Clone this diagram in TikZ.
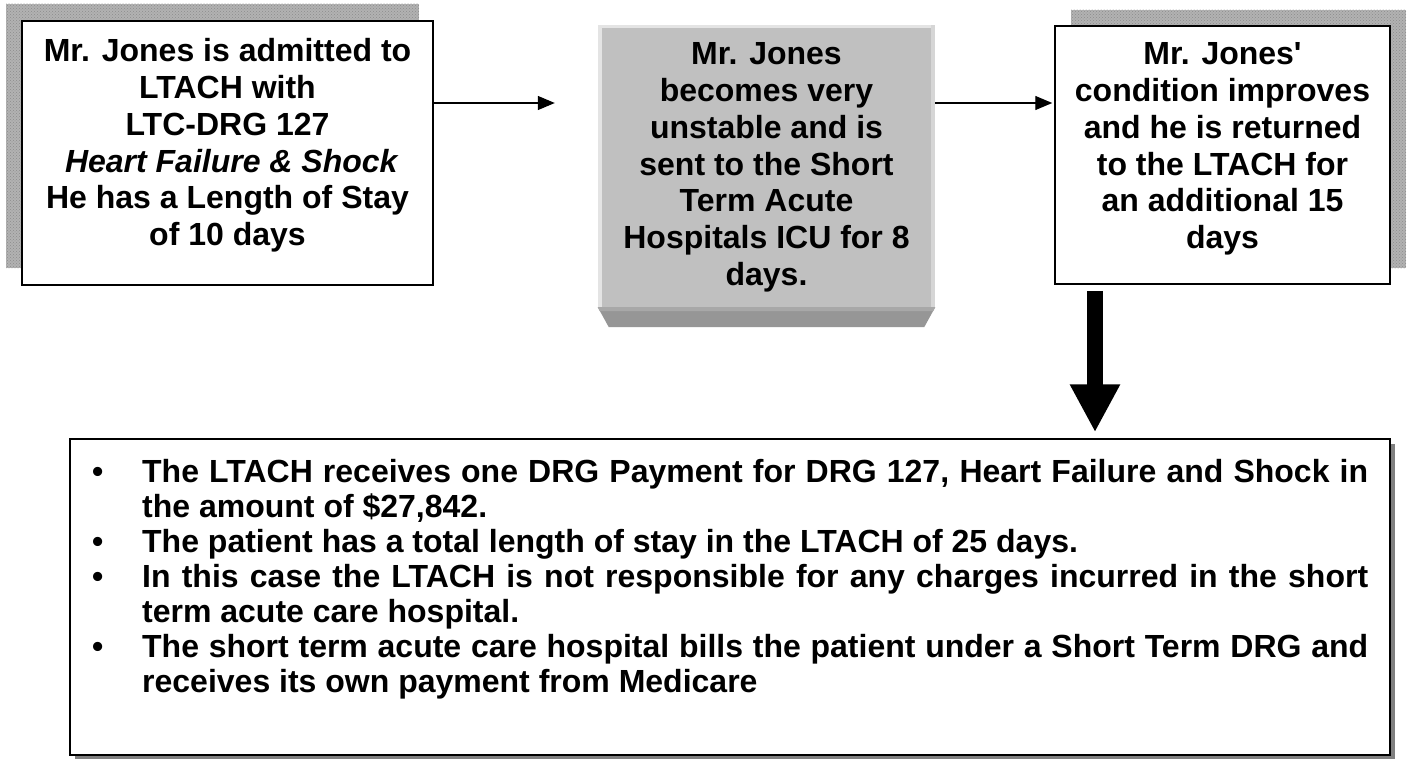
\documentclass[tikz,border=0pt]{standalone}
\usepackage{fontspec}
\setmainfont{Liberation Sans}
\usetikzlibrary{arrows.meta,patterns}
\definecolor{facegray}{HTML}{C0C0C0}
\definecolor{edgelight}{HTML}{E4E4E4}
\definecolor{edgeright}{HTML}{D6D6D6}
\definecolor{bevelgray}{HTML}{969696}
\definecolor{bevellight}{HTML}{A8A8A8}
\definecolor{shadowgray}{HTML}{808080}
\newcommand\boxfont{\fontsize{32}{36.7}\selectfont\bfseries}
\newcommand\listfont{\fontsize{32}{35}\selectfont\bfseries}
\newcommand\bul{\noindent\llap{\makebox[50pt][l]{\textbullet}}}
\begin{document}
\begin{tikzpicture}[x=1pt,y=-1pt,
  box/.style={draw=black, line width=1.5pt, fill=white, inner sep=0pt},
  txt/.style={inner sep=0pt, anchor=base},
  arr/.style={line width=1.3pt, -{Triangle[length=17pt,width=14pt]}},
  bigarr/.style={line width=16pt, -{Triangle[length=48pt,width=47pt]}},
  texture/.style={fill=gray!60, postaction={pattern=crosshatch dots, pattern color=gray!90}}
]
\useasboundingbox (0,0) rectangle (1408,760);
\fill[white] (0,0) rectangle (1408,760);

% textured shadows
\path[texture] (6,4) rectangle (419,268);
\path[texture] (1071,10) rectangle (1406,268);
% bottom box shadow
\fill[shadowgray] (75,444) rectangle (1395,759);

% boxes
\node[box, minimum width=411pt, minimum height=264pt] (b1) at (227.5,153) {};
\node[box, minimum width=335pt, minimum height=258pt] (b3) at (1222.5,155) {};
\node[box, minimum width=1320pt, minimum height=316pt] (b4) at (730,597) {};

% bevelled grey box
\node[fill=facegray, inner sep=0pt, minimum width=337pt, minimum height=282pt] (b2) at (766.5,166) {};
\fill[edgelight] (b2.north west) rectangle ([xshift=4pt]b2.south west);
\fill[edgelight] (b2.north west) rectangle ([yshift=-3pt]b2.north east);
\fill[edgeright] ([xshift=-4pt]b2.north east) rectangle (b2.south east);
\fill[bevelgray] (b2.south west) -- (b2.south east) -- ([xshift=-11pt,yshift=-20pt]b2.south east) -- ([xshift=11pt,yshift=-20pt]b2.south west) -- cycle;
\fill[bevellight] (b2.south west) -- (b2.south east) -- ([xshift=-2pt,yshift=-4pt]b2.south east) -- ([xshift=2pt,yshift=-4pt]b2.south west) -- cycle;

% texts
\node[txt] (t1) at (227.5,62) {\parbox[t]{405pt}{\centering\boxfont
Mr. Jones is admitted to\\
LTACH with\\
LTC-DRG 127\\
~\textit{Heart Failure \& Shock}\\
He has a Length of Stay\\
of 10 days}};

\node[txt] (t2) at (766.5,65) {\parbox[t]{330pt}{\centering\boxfont
Mr. Jones\\
becomes very\\
unstable and is\\
sent to the Short\\
Term Acute\\
Hospitals ICU for 8\\
days.}};

\node[txt] (t3) at (1222.5,65) {\parbox[t]{330pt}{\centering\boxfont
Mr. Jones\textquotesingle\\
condition improves\\
and he is returned\\
to the LTACH for\\
an additional 15\\
days}};

\node[inner sep=0pt, anchor=base west] (t4) at (142,482) {\parbox[t]{1226pt}{\listfont
\hyphenpenalty=10000 \tolerance=9999
\bul The LTACH receives one DRG Payment for DRG 127, Heart Failure and Shock in\linebreak
the amount of \$27,842.\par
\bul The patient has a total length of stay in the LTACH of 25 days.\par
\bul In this case the LTACH is not responsible for any charges incurred in the short\linebreak
term acute care hospital.\par
\bul The short term acute care hospital bills the patient under a Short Term DRG and\linebreak
receives its own payment from Medicare\par}};

% connectors
\draw[arr] ([yshift=50pt]b1.east) -- ([xshift=-43pt,yshift=63pt]b2.west);
\draw[arr] ([yshift=63pt]b2.east) -- ([xshift=-2pt,yshift=52pt]b3.west);
\coordinate (ds) at ([xshift=-127.5pt,yshift=-6pt]b3.south);
\coordinate (de) at ([xshift=365pt,yshift=6pt]b4.north);
\draw[bigarr] (ds) -- (de);
\end{tikzpicture}
\end{document}
